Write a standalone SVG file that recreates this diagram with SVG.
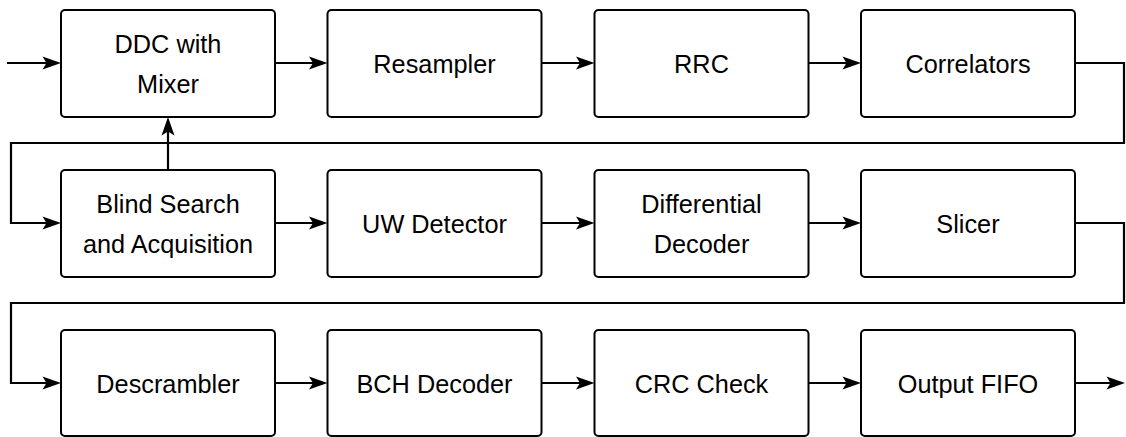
<svg xmlns="http://www.w3.org/2000/svg" width="1126" height="437" viewBox="0 0 1126 437">
<style>
.box{fill:#fff;stroke:#000;stroke-width:2}
.t{font-family:"Liberation Sans",Arial,sans-serif;font-size:25.3px;fill:#000;text-anchor:middle}
.c{fill:none;stroke:#000;stroke-width:2.2;stroke-linejoin:miter}
</style>
<defs>
<marker id="ah" viewBox="-12 -8 22 16" markerWidth="22" markerHeight="16" refX="0" refY="0" orient="auto" markerUnits="userSpaceOnUse" overflow="visible">
<path d="M8,0 L-10.5,-6.5 L-6.5,0 L-10.5,6.5 Z" fill="#000"/>
</marker>
</defs>
<g id="connectors">
<path class="c" d="M7,63 H53" marker-end="url(#ah)"/>
<path class="c" d="M275,63 H319.5" marker-end="url(#ah)"/>
<path class="c" d="M541.5,63 H586.5" marker-end="url(#ah)"/>
<path class="c" d="M808.5,63 H853" marker-end="url(#ah)"/>
<path class="c" d="M1075,63 H1124 V143 H11 V223 H53" marker-end="url(#ah)"/>
<path class="c" d="M168,170 V125" marker-end="url(#ah)"/>
<path class="c" d="M275,223 H319.5" marker-end="url(#ah)"/>
<path class="c" d="M541.5,223 H586.5" marker-end="url(#ah)"/>
<path class="c" d="M808.5,223 H853" marker-end="url(#ah)"/>
<path class="c" d="M1075,223 H1124 V303 H11 V383 H53" marker-end="url(#ah)"/>
<path class="c" d="M275,383 H319.5" marker-end="url(#ah)"/>
<path class="c" d="M541.5,383 H586.5" marker-end="url(#ah)"/>
<path class="c" d="M808.5,383 H853" marker-end="url(#ah)"/>
<path class="c" d="M1075,383 H1117" marker-end="url(#ah)"/>
</g>
<g id="ddc"><rect class="box" x="61" y="10" width="214" height="107" rx="4"/><text class="t" x="168" y="53">DDC with</text><text class="t" x="168" y="93">Mixer</text></g>
<g id="resampler"><rect class="box" x="327.5" y="10" width="214" height="107" rx="4"/><text class="t" x="434.5" y="72.5">Resampler</text></g>
<g id="rrc"><rect class="box" x="594.5" y="10" width="214" height="107" rx="4"/><text class="t" x="701.5" y="72.5">RRC</text></g>
<g id="correlators"><rect class="box" x="861" y="10" width="214" height="107" rx="4"/><text class="t" x="968" y="72.5">Correlators</text></g>
<g id="blind"><rect class="box" x="61" y="170" width="214" height="107" rx="4"/><text class="t" x="168" y="213">Blind Search</text><text class="t" x="168" y="253">and Acquisition</text></g>
<g id="uw"><rect class="box" x="327.5" y="170" width="214" height="107" rx="4"/><text class="t" x="434.5" y="232.5">UW Detector</text></g>
<g id="diff"><rect class="box" x="594.5" y="170" width="214" height="107" rx="4"/><text class="t" x="701.5" y="213">Differential</text><text class="t" x="701.5" y="253">Decoder</text></g>
<g id="slicer"><rect class="box" x="861" y="170" width="214" height="107" rx="4"/><text class="t" x="968" y="232.5">Slicer</text></g>
<g id="descrambler"><rect class="box" x="61" y="330" width="214" height="106" rx="4"/><text class="t" x="168" y="392.5">Descrambler</text></g>
<g id="bch"><rect class="box" x="327.5" y="330" width="214" height="106" rx="4"/><text class="t" x="434.5" y="392.5">BCH Decoder</text></g>
<g id="crc"><rect class="box" x="594.5" y="330" width="214" height="106" rx="4"/><text class="t" x="701.5" y="392.5">CRC Check</text></g>
<g id="fifo"><rect class="box" x="861" y="330" width="214" height="106" rx="4"/><text class="t" x="968" y="392.5">Output FIFO</text></g>
</svg>
